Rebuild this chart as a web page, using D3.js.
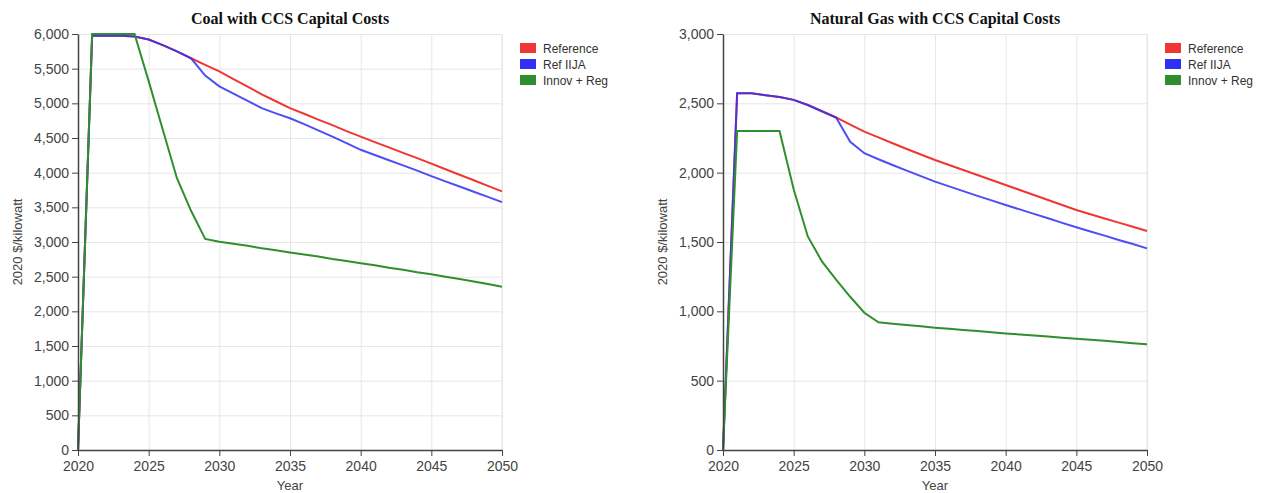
<!DOCTYPE html>
<html>
<head>
<meta charset="utf-8">
<script src="https://cdn.jsdelivr.net/npm/d3@7"></script>
<style>
  body { margin: 0; background: #fff; }
  .tick text { font-family: Arial, "Liberation Sans", sans-serif; font-size: 14px; fill: #444; }
  .grid line { stroke: #e6e6e6; }
  .grid .domain { display: none; }
</style>
</head>
<body>
<script>
// Data
const years = d3.range(2020, 2051);
const seriesNames = ["Reference", "Ref IIJA", "Innov + Reg"];
const seriesColors = ["#f03535", "#2f2ff5", "#2f8f2f"];

const coalReference = [0, 5975, 5980, 5975, 5965, 5920, 5840, 5750, 5650, 5555, 5460, 5350, 5240, 5130, 5030, 4930,
  4850, 4765, 4685, 4600, 4520, 4440, 4365, 4285, 4210, 4130, 4050, 3970, 3890, 3810, 3730];
const coalIIJA = [0, 5975, 5980, 5975, 5965, 5920, 5840, 5750, 5650, 5400, 5245, 5140, 5035, 4930, 4855, 4785,
  4700, 4610, 4520, 4425, 4330, 4255, 4180, 4105, 4030, 3950, 3875, 3800, 3725, 3650, 3575];
const coalInnov = [0, 6000, 6000, 6000, 6000, 5320, 4620, 3920, 3450, 3045, 3005, 2975, 2945, 2910, 2880, 2850,
  2820, 2790, 2755, 2725, 2695, 2665, 2630, 2600, 2565, 2535, 2500, 2465, 2430, 2395, 2355];

const gasReference = [0, 2572, 2572, 2558, 2545, 2525, 2488, 2443, 2398, 2347, 2296, 2254, 2212, 2171, 2131, 2091,
  2055, 2019, 1983, 1947, 1911, 1875, 1839, 1803, 1767, 1731, 1700, 1670, 1640, 1610, 1579];
const gasIIJA = [0, 2572, 2572, 2558, 2545, 2525, 2488, 2443, 2398, 2223, 2140, 2097, 2055, 2015, 1975, 1935,
  1901, 1867, 1833, 1800, 1767, 1735, 1703, 1671, 1638, 1606, 1576, 1546, 1515, 1485, 1454];
const gasInnov = [0, 2300, 2300, 2300, 2300, 1880, 1540, 1360, 1228, 1105, 990, 921, 911, 901, 892, 882,
  874, 866, 858, 849, 841, 833, 826, 818, 810, 803, 795, 787, 779, 770, 762];

const xTicks = [2020, 2025, 2030, 2035, 2040, 2045, 2050];

const W = 1262, H = 493;
const svg = d3.select("body").append("svg").attr("width", W).attr("height", H);

function drawChart(left, title, yMax, data) {
  const plotW = 424, top = 34, bottom = 450;
  const g = svg.append("g").attr("transform", `translate(${left},0)`);

  const x = d3.scaleLinear().domain([2020, 2050]).range([0, plotW]);
  const y = d3.scaleLinear().domain([0, yMax]).range([bottom, top]);
  const yTicks = d3.range(0, yMax + 1, 500);

  // gridlines
  g.append("g").attr("class", "grid")
    .attr("transform", `translate(0,${bottom})`)
    .call(d3.axisBottom(x).tickValues(xTicks).tickSize(-(bottom - top)).tickFormat(""));
  g.append("g").attr("class", "grid")
    .call(d3.axisLeft(y).tickValues(yTicks).tickSize(-plotW).tickFormat(""));
  g.append("line").attr("x1", plotW).attr("x2", plotW).attr("y1", top).attr("y2", bottom)
    .attr("stroke", "#e6e6e6");

  // lines (IIJA slightly see-through so the shared part reads purple)
  const line = d3.line().x((d, i) => x(years[i])).y(d => y(d));
  data.forEach((vals, k) => {
    g.append("path").datum(vals)
      .attr("fill", "none")
      .attr("stroke", seriesColors[k])
      .attr("stroke-width", 2)
      .attr("stroke-opacity", k === 1 ? 0.85 : 1)
      .attr("d", line);
  });

  // axes
  const xAxis = g.append("g").attr("transform", `translate(0,${bottom})`)
    .call(d3.axisBottom(x).tickValues(xTicks).tickFormat(d3.format("d")).tickSizeOuter(0));
  const yAxis = g.append("g")
    .call(d3.axisLeft(y).tickValues(yTicks).tickFormat(d3.format(",")).tickSizeOuter(0));
  [xAxis, yAxis].forEach(a => {
    a.select(".domain").attr("stroke", "#444").attr("stroke-width", 1.5);
    a.selectAll(".tick line").attr("stroke", "#444");
  });
  xAxis.selectAll(".tick text").attr("dy", "0.85em");

  // titles
  g.append("text").attr("x", plotW / 2).attr("y", 24)
    .attr("text-anchor", "middle")
    .attr("font-family", "'Liberation Serif', 'Times New Roman', serif")
    .attr("font-weight", "bold").attr("font-size", 16).attr("fill", "#111")
    .text(title);
  g.append("text").attr("x", plotW / 2).attr("y", 490)
    .attr("text-anchor", "middle")
    .attr("font-family", "Arial, 'Liberation Sans', sans-serif")
    .attr("font-size", 13).attr("fill", "#444")
    .text("Year");
  g.append("text")
    .attr("transform", `translate(-56,${(top + bottom) / 2}) rotate(-90)`)
    .attr("text-anchor", "middle")
    .attr("font-family", "Arial, 'Liberation Sans', sans-serif")
    .attr("font-size", 13).attr("fill", "#444")
    .text("2020 $/kilowatt");

  // legend
  const lg = g.append("g").attr("transform", `translate(${plotW + 18},43)`);
  seriesNames.forEach((name, k) => {
    lg.append("rect").attr("x", 0).attr("y", k * 16).attr("width", 16).attr("height", 10)
      .attr("fill", seriesColors[k]);
    lg.append("text").attr("x", 23).attr("y", k * 16 + 9.5)
      .attr("font-family", "Arial, 'Liberation Sans', sans-serif")
      .attr("font-size", 12).attr("fill", "#333")
      .text(name);
  });
}

drawChart(78, "Coal with CCS Capital Costs", 6000, [coalReference, coalIIJA, coalInnov]);
drawChart(723, "Natural Gas with CCS Capital Costs", 3000, [gasReference, gasIIJA, gasInnov]);
</script>
</body>
</html>
